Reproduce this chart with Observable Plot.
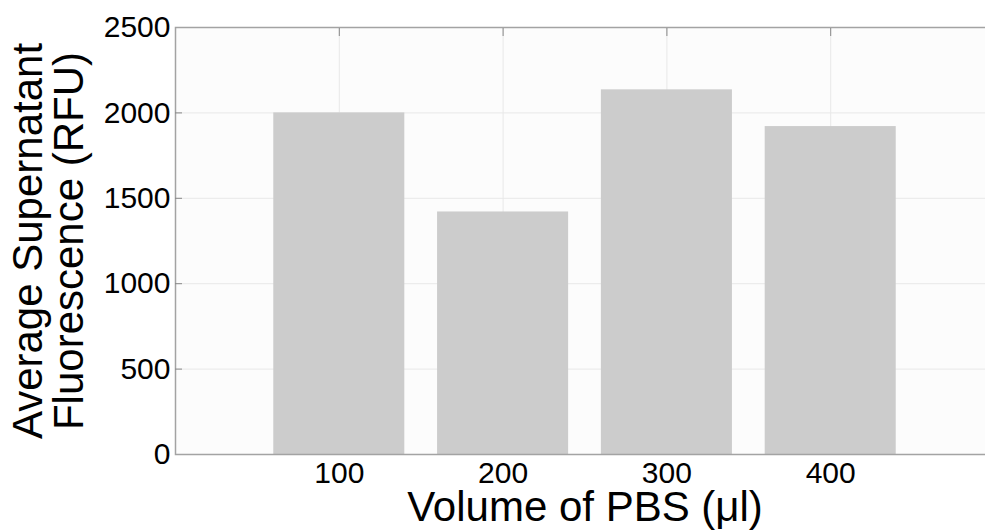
<!DOCTYPE html>
<html><head><meta charset="utf-8">
<script src="https://cdn.jsdelivr.net/npm/d3@7"></script>
<script src="https://cdn.jsdelivr.net/npm/@observablehq/plot@0.6"></script>
<style>html,body{margin:0;padding:0;background:#fff;overflow:hidden;} #chart{width:985px;height:531px;overflow:hidden;}</style>
</head><body><div id="chart"></div>
<script>
const volumes = [100, 200, 300, 400];
const fluorescence = [2000, 1420, 2135, 1920];
const xTicks = [100, 200, 300, 400];
const yTicks = [0, 500, 1000, 1500, 2000, 2500];
const innerYTicks = [500, 1000, 1500, 2000];
const xLabel = "Volume of PBS (μl)";
const yLabel = ["Average Supernatant", "Fluorescence (RFU)"];
const halfBar = 40;
const data = volumes.map((v, i) => ({volume: v, value: fluorescence[i]}));
const plot = Plot.plot({
  width: 985, height: 531,
  marginLeft: 175, marginRight: -9, marginTop: 27, marginBottom: 77,
  style: {fontFamily: "'Liberation Sans', Arial, sans-serif", color: "#000", background: "#fff", overflow: "hidden"},
  x: {domain: [0, 500]},
  y: {domain: [0, 2500]},
  marks: [
    Plot.frame({fill: "#fcfcfc"}),
    Plot.gridX(xTicks, {stroke: "#e8e8e8", strokeOpacity: 1}),
    Plot.gridY(innerYTicks, {stroke: "#e8e8e8", strokeOpacity: 1}),
    Plot.rect(data, {x1: d => d.volume - halfBar, x2: d => d.volume + halfBar, y1: 0, y2: "value", fill: "#cccccc"}),
    Plot.frame({stroke: "#a3a3a3", strokeWidth: 1.5}),
    Plot.axisX(xTicks, {anchor: "top", tickSize: -8, tickFormat: () => "", stroke: "#888", label: null}),
    Plot.axisY(innerYTicks, {anchor: "left", tickSize: -7, tickFormat: () => "", stroke: "#888", label: null}),
    Plot.axisX(xTicks, {anchor: "bottom", tickSize: 0, tickPadding: 7, fontSize: 30, tickFormat: d3.format("d"), label: null}),
    Plot.axisY(yTicks, {anchor: "left", tickSize: 0, tickPadding: 5, fontSize: 30, tickFormat: d3.format("d"), label: null}),
    Plot.text([xLabel], {text: d => d, frameAnchor: "bottom", lineAnchor: "middle", textAnchor: "middle", dy: 53, fontSize: 42}),
    Plot.text([yLabel.join("\n")], {text: d => d, frameAnchor: "left", rotate: -90, textAnchor: "middle", lineAnchor: "middle", lineHeight: 0.98, dx: -126, fontSize: 42})
  ]
});
document.getElementById("chart").appendChild(plot);
</script>
</body></html>
